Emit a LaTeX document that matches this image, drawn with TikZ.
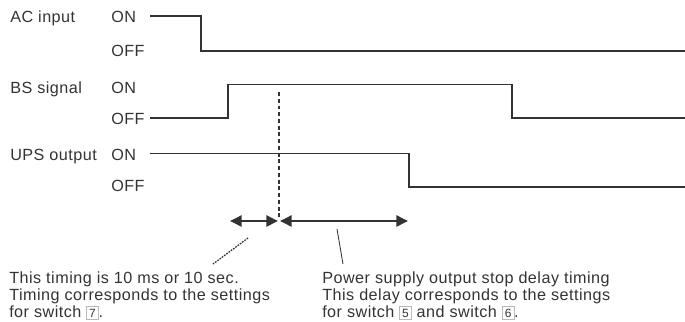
\documentclass[tikz,border=0pt]{standalone}
\usepackage{fontspec}
\setmainfont{Liberation Sans}[LetterSpace=3]
\usetikzlibrary{arrows.meta}
\definecolor{ink}{HTML}{333333}
\newcommand{\swnum}[1]{{\color{gray!55}\setlength\fboxsep{1.6pt}\setlength\fboxrule{0.4pt}\fbox{\color{ink}\fontsize{8.5}{9}\selectfont#1}}}

\begin{document}
\begin{tikzpicture}[x=0.025cm,y=-0.025cm,
  lbl/.style={anchor=base west,inner sep=0pt,font=\fontsize{11.5}{12}\selectfont,text=ink},
  wave/.style={ink,line width=1.2pt},
  span/.style={ink,line width=1.1pt,{Triangle[length=0.29cm,width=0.28cm]}-{Triangle[length=0.29cm,width=0.28cm]}},
  note/.style={anchor=base west,align=left,inner sep=0pt,font=\fontsize{11.5}{11.9}\selectfont,text=ink}]
\useasboundingbox (0,0) rectangle (685,322);

% signal names
\node[lbl] (ac)  at (10,23)  {AC input};
\node[lbl] (bs)  at (10,93)  {BS signal};
\node[lbl] (ups) at (10,160) {UPS output};

% levels
\foreach \n/\y in {ac/23,bs/93,ups/160}
  \node[lbl] (\n on) at (111,\y) {ON};
\foreach \n/\y in {ac/56.5,bs/124.3,ups/191.5}
  \node[lbl] (\n off) at (111,\y) {OFF};

% waveforms
\draw[wave] (150,15.7) -- (201,15.7) -- (201,50.7) -- (685,50.7);
\draw[wave] (150,118.3) -- (228,118.3) -- (228,84.5) -- (512,84.5) -- (512,118.3) -- (685,118.3);
\draw[wave] (150,153.5) -- (409,153.5) -- (409,187.3) -- (685,187.3);

% marker and spans
\coordinate (mk) at (279,92);
\coordinate (mkend) at (279,218);
\draw[ink,line width=0.8pt,dash pattern=on 2.8pt off 2pt] (mk) -- (mkend);
\coordinate (t0) at (230,221);
\coordinate (t1) at (278,221);
\coordinate (t2) at (280,221);
\coordinate (t3) at (408,221);
\draw[span] (t0) -- (t1);
\draw[span] (t2) -- (t3);

% notes
\node[note] (n1) at (9,317) {This timing is 10 ms or 10 sec.\\Timing corresponds to the settings\\for switch \swnum{7}.};
\node[note] (n2) at (322,317) {Power supply output stop delay timing\\This delay corresponds to the settings\\for switch \swnum{5} and switch \swnum{6}.};

% leaders
\coordinate (l1a) at (248,238);
\coordinate (l1b) at (213,264);
\coordinate (l2a) at (337,229);
\coordinate (l2b) at (343,264);
\draw[ink,line width=0.9pt,dash pattern=on 1.2pt off 0.8pt] (l1a) -- (l1b);
\draw[ink,line width=0.6pt] (l2a) -- (l2b);
\end{tikzpicture}
\end{document}
